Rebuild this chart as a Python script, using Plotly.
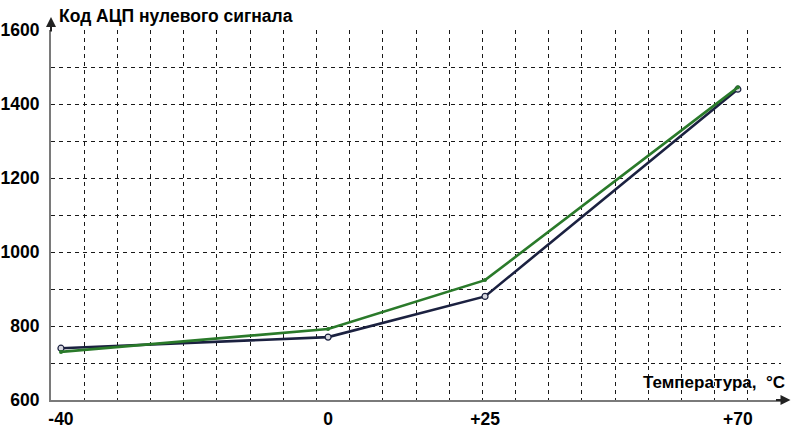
import plotly.graph_objects as go

# --- data ---
temp_labels = ["-40", "0", "+25", "+70"]
# positions of the temperature categories along the (non-linear) x axis, in grid cells
temp_pos = [0.30, 8.35, 13.08, 20.70]
adc_navy = [740, 770, 880, 1440]
adc_green = [730, 792, 924, 1445]
y_ticks = [600, 700, 800, 900, 1000, 1100, 1200, 1300, 1400, 1500, 1600]
y_ticktext = ["600", "", "800", "", "1000", "", "1200", "", "1400", "", "1600"]

FONT = "Liberation Sans, Arial, sans-serif"
grid_col = "#1a1a1a"

fig = go.Figure()
fig.add_trace(go.Scatter(
    x=temp_pos, y=adc_navy, mode="lines+markers",
    line=dict(color="#1b2140", width=2.6),
    marker=dict(size=6, color="#d8d8e0", line=dict(color="#1b2140", width=1.2)),
    showlegend=False, cliponaxis=False))
fig.add_trace(go.Scatter(
    x=temp_pos, y=adc_green, mode="lines+markers",
    line=dict(color="#2a7a2a", width=2.6),
    marker=dict(size=4, color="#2a7a2a"),
    showlegend=False, cliponaxis=False))

fig.update_layout(
    width=799, height=431,
    margin=dict(l=51, r=18, t=30, b=31, autoexpand=False),
    paper_bgcolor="white", plot_bgcolor="white",
    font=dict(family=FONT, size=16, color="black"),
    xaxis=dict(
        range=[0, 22], tickmode="array", tickvals=temp_pos, ticktext=temp_labels,
        showgrid=False, zeroline=False, ticks="", automargin=False,
        tickfont=dict(family=FONT, size=17.5, color="black", weight="bold"),
        ticklabelstandoff=2,
        showline=True, linecolor="#7a7a7a", linewidth=2,
        minor=dict(tick0=0, dtick=1, showgrid=True, gridcolor=grid_col,
                   gridwidth=1, griddash="4px,4px", ticks=""),
    ),
    yaxis=dict(
        range=[600, 1600], tickmode="array", tickvals=y_ticks, ticktext=y_ticktext,
        showgrid=True, gridcolor=grid_col, gridwidth=1, griddash="4px,4px",
        zeroline=False, ticks="", automargin=False,
        tickfont=dict(family=FONT, size=17.5, color="black", weight="bold"),
        ticklabelstandoff=6,
        showline=True, linecolor="#7a7a7a", linewidth=2,
    ),
    annotations=[
        dict(x=0, y=1.035, xref="paper", yref="paper", ax=0, ay=16,
             showarrow=True, arrowhead=2, arrowsize=1, arrowwidth=2,
             arrowcolor="#222", text=""),
        dict(x=1.013, y=0, xref="paper", yref="paper", ax=-16, ay=0,
             showarrow=True, arrowhead=2, arrowsize=1, arrowwidth=2,
             arrowcolor="#222", text=""),
        dict(x=0.008, y=1.038, xref="paper", yref="paper", xanchor="left",
             yanchor="middle", showarrow=False,
             text="<b>Код АЦП нулевого сигнала</b>",
             font=dict(family=FONT, size=17.5, color="black")),
        dict(x=1.008, y=0.046, xref="paper", yref="paper", xanchor="right",
             yanchor="middle", showarrow=False,
             text="<b>Температура,  °C</b>",
             font=dict(family=FONT, size=17, color="black")),
    ],
)

fig.write_html("out.html", config={"displayModeBar": False},
               post_script="document.body.style.margin='0';document.body.style.overflow='hidden';")
